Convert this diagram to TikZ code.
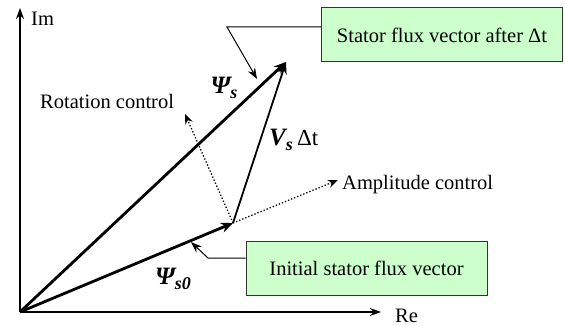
\documentclass[tikz,border=0pt]{standalone}
\usepackage{fontspec}
\setmainfont{Liberation Serif}
\usetikzlibrary{arrows.meta}
\begin{document}
\begin{tikzpicture}[x=1pt,y=-1pt,
  lbl/.style={font=\fontsize{20.5}{23}\selectfont, inner sep=0pt},
  greenbox/.style={draw=black!80, line width=1pt, fill={rgb,255:red,204;green,255;blue,204}, font=\fontsize{20.5}{23}\selectfont},
  vec/.style={line width=2.8pt, -{Stealth[length=12pt,width=10pt]}},
  thin vec/.style={line width=1.8pt, -{Stealth[length=12pt,width=9pt]}},
  axis/.style={line width=1.2pt, -{Stealth[length=11pt,width=8pt]}},
  dotarrow/.style={line width=1.3pt, dotted, -{Stealth[length=10pt,width=8pt]}},
  pointer/.style={line width=1pt, -{Stealth[length=11pt,width=8pt]}},
  sym/.style={font=\fontsize{25}{27}\selectfont\bfseries\itshape, inner sep=0pt}]
\useasboundingbox (0,0) rectangle (565,326);
\coordinate (O) at (20,312);
\coordinate (ImEnd) at (20,8);
\coordinate (ReEnd) at (381,312);
\coordinate (P0) at (233,223);
\coordinate (P1) at (286,62);
\coordinate (RotEnd) at (185,114);
\coordinate (AmpEnd) at (338,180);
% axes
\draw[axis] (O) -- (ImEnd);
\draw[axis] (O) -- (ReEnd);
\node[lbl, anchor=west] (im) at (31,19) {Im};
\node[lbl, anchor=west] (re) at (395,316) {Re};
% dotted controls
\draw[dotarrow] (P0) -- (RotEnd);
\draw[dotarrow] (P0) -- (AmpEnd);
\node[lbl, anchor=west] (rot) at (40,101) {Rotation control};
\node[lbl, anchor=west] (amp) at (342,185) {Amplitude control};
% vectors
\draw[vec] (O) -- (P0);
\draw[vec] (O) -- (P1);
\draw[thin vec] (P0) -- (P1);
% labels
\node[sym] (psis) at (224,88) {Ψ\raisebox{-5pt}{\fontsize{18}{20}\selectfont s}};
\node[sym, anchor=west] (vs) at (269,140) {V\raisebox{-5pt}{\fontsize{18}{20}\selectfont s}\,{\normalfont\fontsize{23}{25}\selectfont Δt}};
\node[sym] (psis0) at (173,279) {Ψ\raisebox{-5pt}{\fontsize{18}{20}\selectfont s0}};
% boxes
\node[greenbox, minimum width=241pt, minimum height=54pt] (box1) at (442,35) {Stator flux vector after Δt};
\node[greenbox, minimum width=241pt, minimum height=54pt] (box2) at (366.5,268) {Initial stator flux vector};
% pointers
\coordinate (k1) at (227,27);
\coordinate (t1) at (257,79);
\draw[pointer] (box1.west |- 0,27) -- (k1) -- (t1);
\coordinate (k2) at (208,258);
\coordinate (t2) at (191,242);
\draw[pointer] (box2.west |- 0,258) -- (k2) -- (t2);
\end{tikzpicture}
\end{document}
